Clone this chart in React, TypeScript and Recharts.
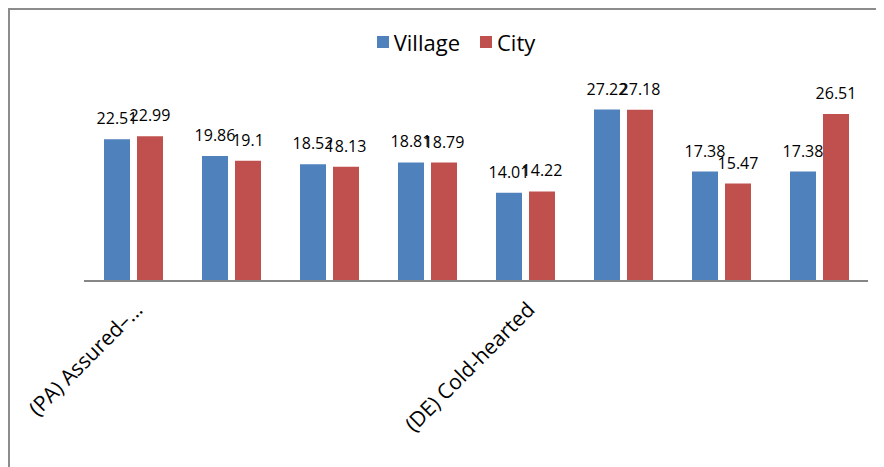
import React from "react";
import { BarChart, Bar, XAxis, YAxis, Legend, LabelList } from "recharts";

// only the 1st and 5th category names are printed in the chart
const categories = [
  "(PA) Assured–...",
  "(PB)",
  "(PC)",
  "(PD)",
  "(DE) Cold-hearted",
  "(DF)",
  "(DG)",
  "(DH)",
];
const village = [22.51, 19.86, 18.52, 18.81, 14.01, 27.22, 17.38, 17.38];
const city = [22.99, 19.1, 18.13, 18.79, 14.22, 27.18, 15.47, 26.51];

const BLUE = "#4F81BD";
const RED = "#C0504D";
const FONT = "'Open Sans', 'Liberation Sans', sans-serif";

const data = categories.map((name, i) => ({
  name,
  village: village[i],
  city: city[i],
}));

const RotatedTick = (props: any) => {
  const { x, y, payload } = props;
  return (
    <g transform={`translate(${x + 11},${y + 22})`}>
      <text
        x={0}
        y={0}
        textAnchor="end"
        transform="rotate(-45)"
        fontSize={21}
        fontFamily={FONT}
        fill="#000"
      >
        {payload.value}
      </text>
    </g>
  );
};

const LegendBox = () => (
  <div
    style={{
      height: 82,
      boxSizing: "border-box",
      paddingTop: 19,
      paddingLeft: 24,
      display: "flex",
      justifyContent: "center",
      alignItems: "flex-start",
      fontFamily: FONT,
      fontSize: 22,
      lineHeight: "26px",
      color: "#000",
    }}
  >
    {[
      { label: "Village", color: BLUE },
      { label: "City", color: RED },
    ].map((item, i) => (
      <div
        key={item.label}
        style={{ display: "flex", alignItems: "center", marginLeft: i ? 20 : 0 }}
      >
        <span
          style={{
            width: 12,
            height: 12,
            background: item.color,
            display: "inline-block",
            marginRight: 5,
          }}
        />
        {item.label}
      </div>
    ))}
  </div>
);

export default function App() {
  return (
    <div
      style={{
        width: 868,
        height: 466,
        border: "2px solid #8c8c8c",
        background: "#fff",
      }}
    >
      <style>{`body{overflow:hidden}`}</style>
      <BarChart
        width={868}
        height={456}
        data={data}
        margin={{ top: 0, right: 10, left: 74, bottom: 35 }}
        barSize={26}
        barGap={7}
      >
        <Legend
          verticalAlign="top"
          align="center"
          content={<LegendBox />}
          wrapperStyle={{ left: 0, top: 0, width: 868 }}
        />
        <YAxis hide domain={[0, 30]} />
        <XAxis
          dataKey="name"
          height={150}
          interval={3}
          tickLine={false}
          axisLine={{ stroke: "#868686", strokeWidth: 2 }}
          tick={<RotatedTick />}
        />
        <Bar dataKey="village" name="Village" fill={BLUE} isAnimationActive={false}>
          <LabelList
            dataKey="village"
            position="top"
            offset={15}
            fill="#000"
            fontSize={16}
            fontFamily={FONT}
          />
        </Bar>
        <Bar dataKey="city" name="City" fill={RED} isAnimationActive={false}>
          <LabelList
            dataKey="city"
            position="top"
            offset={15}
            fill="#000"
            fontSize={16}
            fontFamily={FONT}
          />
        </Bar>
      </BarChart>
    </div>
  );
}
